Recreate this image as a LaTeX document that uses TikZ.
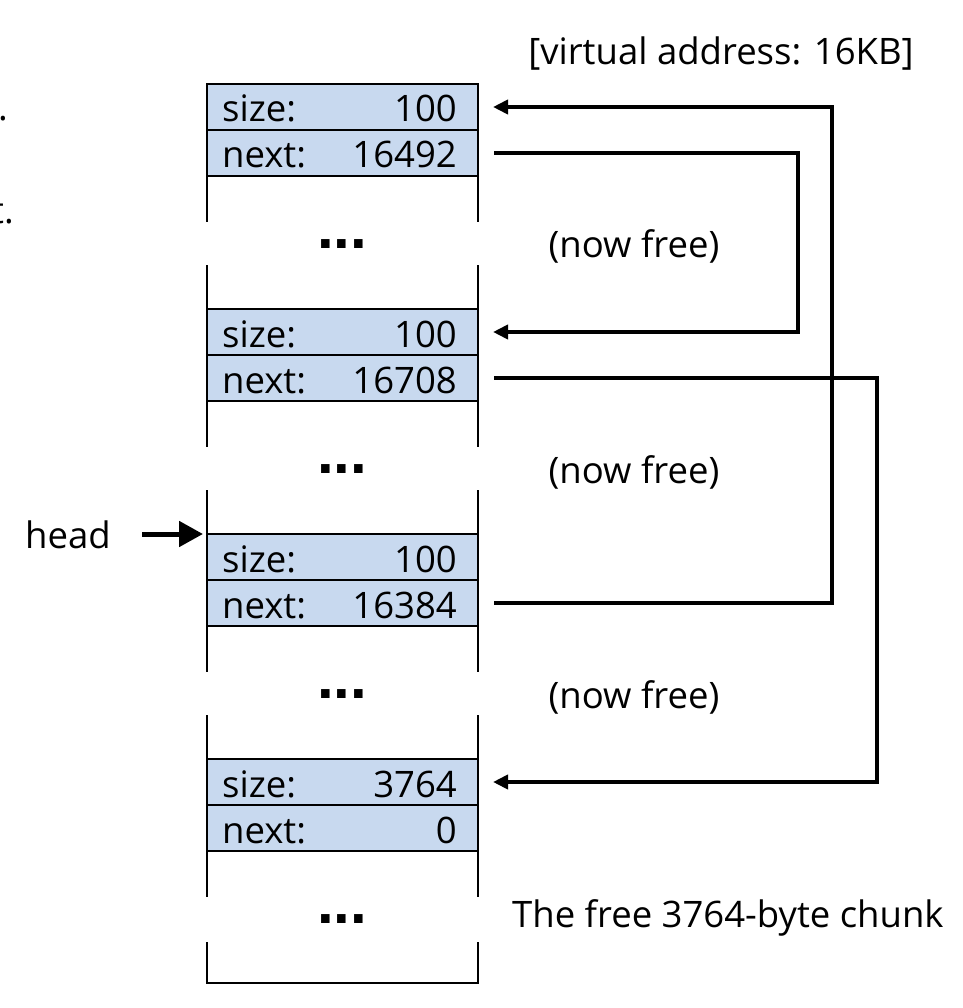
\documentclass[tikz,border=0pt]{standalone}
\usepackage{fontspec}
\setmainfont{Open Sans}
\newfontfamily\dotfont{Liberation Sans}
\usetikzlibrary{positioning,calc,arrows.meta}
\definecolor{fieldblue}{RGB}{200,217,239}
\tikzset{
  field/.style={draw, fill=fieldblue, line width=2pt, minimum width=271pt, minimum height=46pt, inner sep=0pt, outer sep=0pt, anchor=north west},
  wall/.style={line width=2pt},
  txt/.style={font=\fontsize{36.5}{41}\selectfont, inner sep=0pt},
  gapdots/.style={font=\dotfont\bfseries\fontsize{60}{60}\selectfont, inner sep=0pt},
  link/.style={line width=4pt, -{Triangle[length=15pt,width=14pt]}},
  pointer/.style={line width=5pt, -{Triangle[length=24pt,width=25pt]}}
}
\begin{document}
\begin{tikzpicture}[x=1pt,y=-1pt]
  \useasboundingbox (0,0) rectangle (962,1008);
  % the four chunks with their headers
  \foreach \i/\sz/\nx in {1/100/16492, 2/100/16708, 3/100/16384, 4/3764/0} {
    \node[field] (size\i) at (207,84+225*\i-225) {};
    \node[field, below=0pt of size\i] (next\i) {};
    \node[txt, anchor=base west] at ($(size\i.south west)+(15,-8)$) {size:};
    \node[txt, anchor=base east] at ($(size\i.south east)+(-21,-8)$) {\sz};
    \node[txt, anchor=base west] at ($(next\i.south west)+(15,-8)$) {next:};
    \node[txt, anchor=base east] at ($(next\i.south east)+(-21,-8)$) {\nx};
    \draw[wall] (next\i.south west) -- ++(0,46) (next\i.south east) -- ++(0,46);
  }
  \foreach \i in {2,3,4}
    \draw[wall] (size\i.north west) -- ++(0,-44) (size\i.north east) -- ++(0,-44);
  \draw[wall] (207,942) -- (207,983) -- (478,983) -- (478,942);
  % gaps
  \foreach \i in {0,...,3}
    \node[gapdots] (gap\i) at (342,244+225*\i) {...};
  % texts
  \node[txt, anchor=base] (vaddr) at (721,65) {[virtual address: 16KB]};
  \foreach \i/\y in {1/258, 2/483, 3/708}
    \node[txt, anchor=base] (free\i) at (634,\y) {(now free)};
  \node[txt, anchor=base west] (chunk) at (512,927) {The free 3764-byte chunk};
  \node[txt, anchor=base west] (head) at (25,548) {head};
  \node[txt, anchor=base east] (cut1) at (8,121) {.};
  \node[txt, anchor=base east] (cut2) at (14,224) {t.};
  % free list links
  \coordinate (rail1) at (832,0);
  \coordinate (rail2) at (798,0);
  \coordinate (rail3) at (877,0);
  \draw[link] ([xshift=16pt]next3.east) -- (next3.east -| rail1) -- (size1.east -| rail1) -- ([xshift=15pt]size1.east);
  \draw[link] ([xshift=16pt]next1.east) -- (next1.east -| rail2) -- (size2.east -| rail2) -- ([xshift=15pt]size2.east);
  \draw[link] ([xshift=16pt]next2.east) -- (next2.east -| rail3) -- (size4.east -| rail3) -- ([xshift=15pt]size4.east);
  \draw[pointer] ([xshift=-65pt]size3.north west) -- ([xshift=-4pt]size3.north west);
\end{tikzpicture}
\end{document}
